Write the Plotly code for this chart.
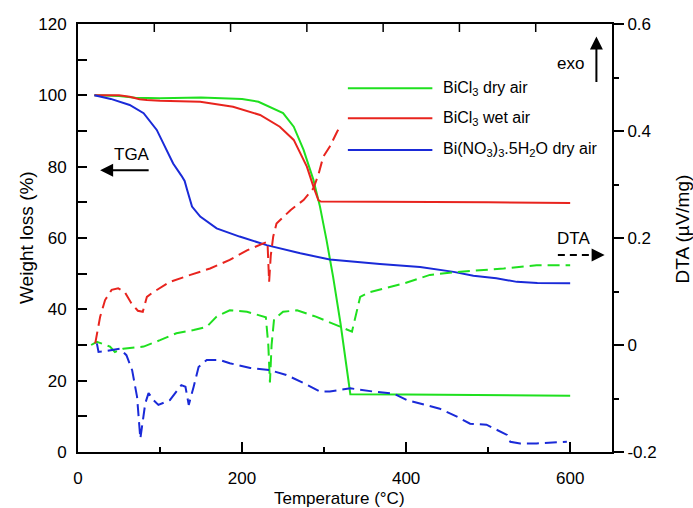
import plotly.graph_objects as go

# ---------------- data ----------------
# TGA curves: weight loss (%) vs temperature (°C)
t_dry = [20, 50, 70, 100, 150, 200, 220, 234, 250, 263, 275, 287, 295, 303, 311, 320, 332, 400, 500, 600]
w_dry = [100, 99.8, 99.3, 99.2, 99.4, 99.0, 98.2, 96.8, 95.0, 91.2, 84.7, 76.3, 68.8, 59.4, 49.1, 36.1, 16.2, 16.1, 16.0, 15.8]

t_wet = [20, 50, 63, 75, 84, 100, 149, 189, 222, 246, 263, 279, 287, 293, 296, 350, 400, 500, 600]
w_wet = [100, 100, 99.6, 98.9, 98.7, 98.5, 98.2, 96.8, 94.5, 91.2, 87.5, 80, 74.4, 70.6, 70.2, 70.2, 70.1, 70.0, 69.8]

t_nit = [20, 40, 63, 80, 96, 108, 116, 126, 130, 133, 139, 149, 169, 197, 230, 271, 307, 368, 417, 458, 482, 510, 535, 560, 600]
w_nit = [100, 99, 97.3, 95, 90.3, 84.7, 80.9, 77.5, 76, 73.5, 68.8, 66, 62.7, 60.4, 58, 55.7, 54, 52.7, 51.9, 50.5, 49.4, 48.7, 47.7, 47.4, 47.3]

# DTA curves (µV/mg) vs temperature (°C)
td_dry = [16, 23, 39, 45, 55, 80, 100, 120, 141, 157, 169, 185, 206, 222, 229, 232, 234, 236, 239, 250, 267,
          290, 307, 320, 334, 340, 344, 356, 397, 429, 466, 519, 559, 600]
d_dry = [0.000, 0.006, -0.003, -0.013, -0.007, -0.003, 0.009, 0.022, 0.028, 0.034, 0.053, 0.065, 0.062, 0.056,
         0.052, 0.000, -0.070, 0.000, 0.048, 0.062, 0.065, 0.053, 0.043, 0.034, 0.025, 0.065, 0.090, 0.099,
         0.115, 0.131, 0.137, 0.143, 0.149, 0.149]

td_wet = [21, 27, 33, 41, 49, 57, 65, 73, 79, 84, 92, 112, 137, 161, 185, 206, 226, 231, 233, 235, 238, 242,
          259, 275, 287, 293, 299, 307, 316, 321]
d_wet = [0.003, 0.053, 0.084, 0.103, 0.106, 0.099, 0.078, 0.064, 0.062, 0.090, 0.099, 0.118, 0.131, 0.143,
         0.159, 0.177, 0.190, 0.193, 0.118, 0.167, 0.203, 0.227, 0.252, 0.271, 0.293, 0.318, 0.352, 0.371,
         0.399, 0.412]

td_nit = [23, 25, 35, 43, 51, 59, 66, 72, 76, 82, 86, 92, 98, 112, 126, 131, 135, 141, 147, 157, 173, 185,
          210, 234, 254, 275, 295, 307, 332, 360, 385, 401, 425, 441, 462, 478, 498, 515, 523, 527, 539, 559, 596]
d_nit = [0.003, -0.013, -0.011, -0.009, -0.007, -0.019, -0.047, -0.097, -0.175, -0.109, -0.090, -0.103,
         -0.112, -0.103, -0.075, -0.078, -0.112, -0.078, -0.041, -0.028, -0.028, -0.034, -0.043, -0.047,
         -0.056, -0.071, -0.087, -0.087, -0.081, -0.087, -0.091, -0.103, -0.112, -0.119, -0.134, -0.147,
         -0.149, -0.162, -0.168, -0.181, -0.184, -0.184, -0.181]

series_names = ["BiCl<sub>3</sub> dry air", "BiCl<sub>3</sub> wet air",
                "Bi(NO<sub>3</sub>)<sub>3</sub>.5H<sub>2</sub>O dry air"]

x_tickvals = [0, 200, 400, 600]
y_tickvals = [0, 20, 40, 60, 80, 100, 120]
y2_tickvals = [-0.2, 0, 0.2, 0.4, 0.6]
y2_ticktext = ["-0.2", "0", "0.2", "0.4", "0.6"]
top_tick_fracs = [1 / 7, 2 / 7, 3 / 7, 4 / 7, 5 / 7, 6 / 7]   # top frame ticks (fraction of width)

# ---------------- styling ----------------
GREEN = "#1fe01f"
RED = "#e8241e"
BLUE = "#1a2ad8"
FONT = "Liberation Sans, Arial, sans-serif"
DASH = "12px,6px"
LW = 2

fig = go.Figure()

fig.add_trace(go.Scatter(x=t_dry, y=w_dry, mode="lines", line=dict(color=GREEN, width=LW),
                         name=series_names[0], showlegend=False))
fig.add_trace(go.Scatter(x=t_wet, y=w_wet, mode="lines", line=dict(color=RED, width=LW),
                         name=series_names[1], showlegend=False))
fig.add_trace(go.Scatter(x=t_nit, y=w_nit, mode="lines", line=dict(color=BLUE, width=LW),
                         name=series_names[2], showlegend=False))

fig.add_trace(go.Scatter(x=td_dry, y=d_dry, yaxis="y2", mode="lines",
                         line=dict(color=GREEN, width=LW, dash=DASH), showlegend=False))
fig.add_trace(go.Scatter(x=td_wet, y=d_wet, yaxis="y2", mode="lines",
                         line=dict(color=RED, width=LW, dash=DASH), showlegend=False))
fig.add_trace(go.Scatter(x=td_nit, y=d_nit, yaxis="y2", mode="lines",
                         line=dict(color=BLUE, width=LW, dash=DASH), showlegend=False))

shapes = []
annotations = []

# top frame ticks (inward)
for f in top_tick_fracs:
    shapes.append(dict(type="line", xref="paper", yref="paper", x0=f, x1=f, y0=1, y1=1 - 8 / 428,
                       line=dict(color="black", width=1.5), layer="above"))

# ---------------- manual legend ----------------
leg_y = [102, 93.6, 84.7]
leg_colors = [GREEN, RED, BLUE]
for name, yy, col in zip(series_names, leg_y, leg_colors):
    shapes.append(dict(type="line", xref="x", yref="y", x0=329, x1=432, y0=yy, y1=yy,
                       line=dict(color=col, width=LW)))
    annotations.append(dict(x=443, y=yy, xref="x", yref="y", text=name, showarrow=False,
                            xanchor="left", yanchor="middle", font=dict(size=16, color="black", family=FONT)))

# TGA label + arrow
annotations.append(dict(x=66, y=83.5, xref="x", yref="y", text="TGA", showarrow=False,
                        font=dict(size=17, color="black", family=FONT)))
annotations.append(dict(x=27, y=79, xref="x", yref="y", text="", showarrow=True, ax=50, ay=0,
                        arrowhead=2, arrowsize=1.3, arrowwidth=2, arrowcolor="black"))
# exo label + arrow
annotations.append(dict(x=600, y=109, xref="x", yref="y", text="exo", showarrow=False,
                        font=dict(size=17, color="black", family=FONT)))
annotations.append(dict(x=632, y=116.5, xref="x", yref="y", text="", showarrow=True, ax=0, ay=47,
                        arrowhead=2, arrowsize=1.3, arrowwidth=2, arrowcolor="black"))
# DTA label + dashed arrow
annotations.append(dict(x=604, y=60, xref="x", yref="y", text="DTA", showarrow=False,
                        font=dict(size=17, color="black", family=FONT)))
shapes.append(dict(type="line", xref="x", yref="y", x0=585, x1=632, y0=55.2, y1=55.2,
                   line=dict(color="black", width=2, dash="7px,5px")))
annotations.append(dict(x=642, y=55.2, xref="x", yref="y", text="", showarrow=True, ax=-10, ay=0,
                        arrowhead=2, arrowsize=1.3, arrowwidth=2, arrowcolor="black"))

# axis titles
annotations.append(dict(x=0, y=0.5, xref="paper", yref="paper", xshift=-52, text="Weight loss (%)",
                        xanchor="center", yanchor="middle",
                        textangle=-90, showarrow=False, font=dict(size=19, color="black", family=FONT)))
annotations.append(dict(x=1, y=0.52, xref="paper", yref="paper", xshift=70, text="DTA (µV/mg)",
                        xanchor="center", yanchor="middle",
                        textangle=-90, showarrow=False, font=dict(size=19, color="black", family=FONT)))
annotations.append(dict(x=0.49, y=0, xref="paper", yref="paper", yshift=-46, text="Temperature (°C)",
                        xanchor="center", yanchor="middle",
                        showarrow=False, font=dict(size=17, color="black", family=FONT)))

tickfont = dict(size=17, color="black", family=FONT)

fig.update_layout(
    width=693, height=508,
    margin=dict(l=78, r=81, t=24, b=56),
    paper_bgcolor="white", plot_bgcolor="white",
    font=dict(family=FONT, color="black"),
    showlegend=False,
    shapes=shapes,
    annotations=annotations,
    xaxis=dict(range=[0, 651], tickvals=x_tickvals, ticks="inside", ticklen=10, tickwidth=1.5,
               tickcolor="black", showline=True, linewidth=2, linecolor="black", mirror=True,
               showgrid=False, zeroline=False, tickfont=tickfont, ticklabelstandoff=10,
               minor=dict(dtick=100, tick0=0, ticks="inside", ticklen=5, tickwidth=1.5, tickcolor="black",
                          showgrid=False)),
    yaxis=dict(range=[0, 120], tickvals=y_tickvals, ticks="inside", ticklen=9, tickwidth=1.5,
               tickcolor="black", showline=True, linewidth=2, linecolor="black",
               showgrid=False, zeroline=False, tickfont=tickfont, ticklabelstandoff=6,
               minor=dict(dtick=10, tick0=0, ticks="inside", ticklen=9, tickwidth=1.5, tickcolor="black",
                          showgrid=False)),
    yaxis2=dict(range=[-0.2, 0.6], overlaying="y", side="right", anchor="x", tickvals=y2_tickvals,
                ticktext=y2_ticktext, ticks="outside", ticklen=10, tickwidth=1.5, tickcolor="black",
                showline=True, linewidth=2, linecolor="black", showgrid=False, zeroline=False,
                tickfont=tickfont,
                minor=dict(dtick=0.1, tick0=0, ticks="outside", ticklen=5, tickwidth=1.5, tickcolor="black",
                           showgrid=False)),
)

fig.write_html("out.html")
